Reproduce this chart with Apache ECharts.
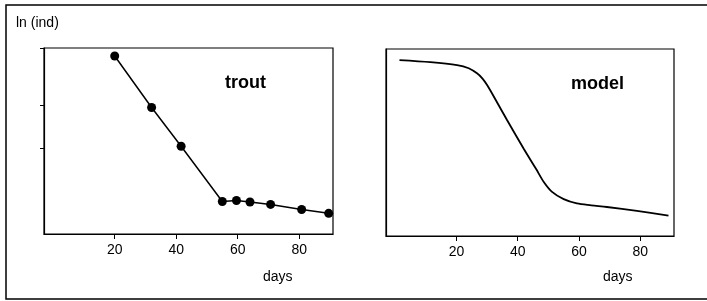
<!DOCTYPE html>
<html>
<head>
<meta charset="utf-8">
<script src="https://cdn.jsdelivr.net/npm/echarts@6/dist/echarts.min.js"></script>
<style>
  html, body { margin: 0; padding: 0; background: #fff; }
  #chart { width: 707px; height: 301px; }
</style>
</head>
<body>
<div id="chart"></div>
<script>
// trout observations (days, ln(ind))
const troutDays = [20, 32, 41.6, 55, 59.6, 64, 70.7, 80.8, 89.6];
const troutLn = [9.57, 6.8, 4.72, 1.75, 1.8, 1.72, 1.59, 1.32, 1.11];

// model curve
const modelDays = [1.4, 11.5, 20.2, 24, 26.7, 28.5, 30, 33, 36.5, 41.9, 46, 48.5, 51.2, 55, 59.3, 64, 69.1, 78.9, 89.2];
const modelLn = [9.41, 9.3, 9.14, 8.97, 8.7, 8.42, 8.07, 7.22, 6.2, 4.68, 3.58, 2.89, 2.36, 1.97, 1.74, 1.64, 1.55, 1.34, 1.09];

const xTicks = [20, 40, 60, 80];
const yTicks = [4.6, 6.9, 10];

const font = '"Liberation Sans", Arial, sans-serif';

const chart = echarts.init(document.getElementById('chart'), null, { renderer: 'canvas' });

function xAxisFor(gridIndex) {
  return {
    type: 'value',
    gridIndex: gridIndex,
    min: -3,
    max: 91,
    axisLine: { show: true, onZero: false, lineStyle: { color: '#000', width: 1.2 } },
    axisTick: { show: true, length: 5, customValues: xTicks, lineStyle: { color: '#000', width: 1 } },
    axisLabel: { customValues: xTicks, color: '#000', fontSize: 14, fontFamily: font, margin: 9 },
    splitLine: { show: false }
  };
}

function yAxisFor(gridIndex, ticks) {
  return {
    type: 'value',
    gridIndex: gridIndex,
    min: 0,
    max: 10,
    axisLine: { show: true, onZero: false, lineStyle: { color: '#000', width: 1.2 } },
    axisTick: { show: ticks, length: 4, customValues: yTicks, lineStyle: { color: '#000', width: 1 } },
    axisLabel: { show: false },
    splitLine: { show: false }
  };
}

const option = {
  animation: false,
  backgroundColor: '#fff',
  grid: [
    { left: 44, top: 48, width: 289, height: 186, show: true, borderColor: '#000', borderWidth: 1.2 },
    { left: 386, top: 49, width: 288, height: 187, show: true, borderColor: '#000', borderWidth: 1.2 }
  ],
  xAxis: [xAxisFor(0), xAxisFor(1)],
  yAxis: [yAxisFor(0, true), yAxisFor(1, false)],
  series: [
    {
      type: 'line',
      xAxisIndex: 0,
      yAxisIndex: 0,
      data: troutDays.map((d, i) => [d, troutLn[i]]),
      symbol: 'circle',
      symbolSize: 9,
      itemStyle: { color: '#000' },
      lineStyle: { color: '#000', width: 1.5 }
    },
    {
      type: 'line',
      xAxisIndex: 1,
      yAxisIndex: 1,
      data: modelDays.map((d, i) => [d, modelLn[i]]),
      showSymbol: false,
      smooth: 0.3,
      lineStyle: { color: '#000', width: 1.8 }
    }
  ],
  graphic: [
    {
      type: 'rect',
      shape: { x: 6, y: 5, width: 710, height: 294 },
      style: { fill: 'none', stroke: '#000', lineWidth: 1.5 },
      z: -1
    },
    {
      type: 'text', left: 16, top: 16,
      style: { text: 'ln (ind)', font: '14px ' + font, fill: '#000' }
    },
    {
      type: 'text', left: 225, top: 74,
      style: { text: 'trout', font: 'bold 18px ' + font, fill: '#000' }
    },
    {
      type: 'text', left: 571, top: 75,
      style: { text: 'model', font: 'bold 18px ' + font, fill: '#000' }
    },
    {
      type: 'text', left: 263, top: 270,
      style: { text: 'days', font: '14px ' + font, fill: '#000' }
    },
    {
      type: 'text', left: 603, top: 270,
      style: { text: 'days', font: '14px ' + font, fill: '#000' }
    }
  ]
};

chart.setOption(option);
</script>
</body>
</html>
